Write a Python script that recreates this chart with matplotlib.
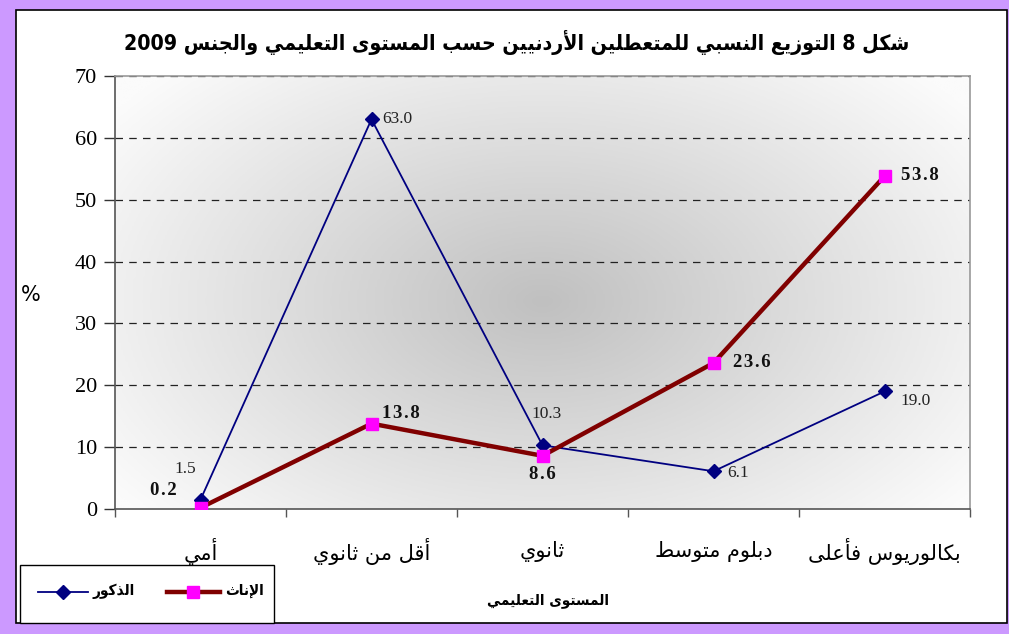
import re
import numpy as np
import matplotlib
matplotlib.use("Agg")
import matplotlib.pyplot as plt
from matplotlib.patches import Rectangle
from matplotlib.lines import Line2D
from matplotlib.colors import LinearSegmentedColormap

# ---------------- data ----------------
title = "شكل 8 التوزيع النسبي للمتعطلين الأردنيين حسب المستوى التعليمي والجنس 2009"
categories = ["أمي", "أقل من ثانوي", "ثانوي", "دبلوم متوسط", "بكالوريوس فأعلى"]
males = [1.5, 63.0, 10.3, 6.1, 19.0]
females = [0.2, 13.8, 8.6, 23.6, 53.8]
male_name = "الذكور"
female_name = "الإناث"
xlabel = "المستوى التعليمي"
ylabel = "%"
yticks = [0, 10, 20, 30, 40, 50, 60, 70]

# ---------------- Arabic shaping (presentation forms + visual order) ----------------
LETTERS = {
    0x0621: (0xFE80, 1), 0x0622: (0xFE81, 2), 0x0623: (0xFE83, 2), 0x0624: (0xFE85, 2),
    0x0625: (0xFE87, 2), 0x0626: (0xFE89, 4), 0x0627: (0xFE8D, 2), 0x0628: (0xFE8F, 4),
    0x0629: (0xFE93, 2), 0x062A: (0xFE95, 4), 0x062B: (0xFE99, 4), 0x062C: (0xFE9D, 4),
    0x062D: (0xFEA1, 4), 0x062E: (0xFEA5, 4), 0x062F: (0xFEA9, 2), 0x0630: (0xFEAB, 2),
    0x0631: (0xFEAD, 2), 0x0632: (0xFEAF, 2), 0x0633: (0xFEB1, 4), 0x0634: (0xFEB5, 4),
    0x0635: (0xFEB9, 4), 0x0636: (0xFEBD, 4), 0x0637: (0xFEC1, 4), 0x0638: (0xFEC5, 4),
    0x0639: (0xFEC9, 4), 0x063A: (0xFECD, 4), 0x0641: (0xFED1, 4), 0x0642: (0xFED5, 4),
    0x0643: (0xFED9, 4), 0x0644: (0xFEDD, 4), 0x0645: (0xFEE1, 4), 0x0646: (0xFEE5, 4),
    0x0647: (0xFEE9, 4), 0x0648: (0xFEED, 2), 0x0649: (0xFEEF, 2), 0x064A: (0xFEF1, 4),
}
LAMALEF = {0x0622: 0xFEF5, 0x0623: 0xFEF7, 0x0625: 0xFEF9, 0x0627: 0xFEFB}


def _jt(item):
    if item[0] == 'LA':
        return 'R'
    cp = ord(item[1])
    if cp in LETTERS:
        n = LETTERS[cp][1]
        return 'D' if n == 4 else ('R' if n == 2 else 'U')
    return 'U'


def ar(text):
    items = []
    i = 0
    while i < len(text):
        c = text[i]
        if ord(c) == 0x0644 and i + 1 < len(text) and ord(text[i + 1]) in LAMALEF:
            items.append(('LA', LAMALEF[ord(text[i + 1])]))
            i += 2
        else:
            items.append(('C', c))
            i += 1
    out = []
    for k, item in enumerate(items):
        t = _jt(item)
        pj = k > 0 and _jt(items[k - 1]) == 'D' and t in 'DR'
        nj = k + 1 < len(items) and t == 'D' and _jt(items[k + 1]) in 'DR'
        if item[0] == 'LA':
            out.append(chr(item[1] + (1 if pj else 0)))
            continue
        cp = ord(item[1])
        if cp not in LETTERS:
            out.append(item[1])
            continue
        base, n = LETTERS[cp]
        if n == 1:
            out.append(chr(base))
        elif n == 2:
            out.append(chr(base + (1 if pj else 0)))
        else:
            off = 3 if (pj and nj) else (1 if pj else (2 if nj else 0))
            out.append(chr(base + off))
    s = ''.join(out)
    s = re.sub(r'[0-9.]+', lambda m: m.group(0)[::-1], s)
    return s[::-1]


# ---------------- figure ----------------
W, H = 1009, 634
fig = plt.figure(figsize=(W / 100, H / 100), dpi=100)
fig.patch.set_facecolor('#CC99FF')


def fx(px):
    return px / W


def fy(py):
    return 1 - py / H


# white panel with black frame
fig.add_artist(Rectangle((fx(16), fy(623)), fx(1007) - fx(16), fy(10) - fy(623),
                         transform=fig.transFigure, facecolor='white',
                         edgecolor='black', linewidth=1.2, zorder=0))

ax = fig.add_axes([fx(115), fy(509), fx(970) - fx(115), fy(76) - fy(509)])
ax.set_zorder(2)

x = np.arange(len(categories))
ax.set_xlim(-0.5, len(categories) - 0.5)
ax.set_ylim(0, 70)

# radial gradient background
gx = np.linspace(0, 1, 400)
gy = np.linspace(0, 1, 300)
GX, GY = np.meshgrid(gx, gy)
R = np.sqrt(((GX - 0.50) / 0.62) ** 2 + ((GY - 0.48) / 0.75) ** 2)
R = np.clip(R, 0, 1)
cmap = LinearSegmentedColormap.from_list('g', ['#c0c0c0', '#dedede', '#fbfbfb'])
ax.imshow(R, cmap=cmap, extent=(-0.5, len(categories) - 0.5, 0, 70), origin='lower',
          aspect='auto', zorder=0, vmin=0, vmax=1, interpolation='bilinear')

for yv in yticks[1:]:
    ax.axhline(yv, color='#222222', linestyle=(0, (6, 5)), linewidth=0.9, zorder=1)

ax.plot(x, males, color='#000080', linewidth=1.3, marker='D', markersize=7,
        markerfacecolor='#000080', markeredgecolor='#000080', zorder=3)
ax.plot(x, females, color='#800000', linewidth=3.2, marker='s', markersize=9,
        markerfacecolor='#FF00FF', markeredgecolor='#FF00FF', zorder=4)

# spines
for s in ['top', 'right']:
    ax.spines[s].set_color('#999999')
    ax.spines[s].set_linewidth(1.2)
for s in ['left', 'bottom']:
    ax.spines[s].set_color('#555555')
    ax.spines[s].set_linewidth(1.2)

ax.set_yticks(yticks)
ax.set_yticklabels([str(v) for v in yticks], fontfamily='Liberation Serif', fontsize=16)
ax.tick_params(axis='y', direction='out', length=8, width=1, color='#333333', pad=5)

ax.set_xticks(np.arange(len(categories) + 1) - 0.5, minor=False)
ax.set_xticklabels([])
ax.tick_params(axis='x', direction='out', length=6, width=1, color='#555555')
for xi, c in zip(x, categories):
    ax.text(xi, -6.9, ar(c), ha='center', va='center', fontsize=15,
            fontfamily='DejaVu Sans', color='black', clip_on=False, zorder=10)

# data labels (offsets in pixels)
mfont = dict(fontfamily='Liberation Serif', fontsize=12.5, color='#222222')
ffont = dict(fontfamily='Liberation Serif', fontsize=13.5, fontweight='bold', color='#111111')
male_off = [(-15, 31), (26, 0), (4, 31), (25, -2), (31, -10)]
female_off = [(-37, 17), (29, 10), (0, -19), (38, 1), (35, 1)]
for xi, v, (dx, dy) in zip(x, males, male_off):
    ax.annotate(f"{v:.1f}", (xi, v), xytext=(dx, dy), textcoords='offset pixels',
                ha='center', va='center', zorder=5, **mfont)
for xi, v, (dx, dy) in zip(x, females, female_off):
    ax.annotate("\u200a".join(f"{v:.1f}"), (xi, v), xytext=(dx, dy), textcoords='offset pixels',
                ha='center', va='center', zorder=5, **ffont)

# title and axis titles
fig.text(fx(517), fy(42), ar(title), ha='center', va='center', fontsize=15.3,
         fontweight='bold', fontfamily='DejaVu Sans', fontstretch='condensed')
fig.text(fx(548), fy(600), ar(xlabel), ha='center', va='center', fontsize=11,
         fontweight='bold', fontfamily='DejaVu Sans', fontstretch='condensed')
fig.text(fx(31), fy(295), ylabel, ha='center', va='center', fontsize=15,
         fontfamily='DejaVu Sans')

# legend box
fig.add_artist(Rectangle((fx(20), fy(623)), fx(274) - fx(20), fy(565) - fy(623),
                         transform=fig.transFigure, facecolor='white',
                         edgecolor='black', linewidth=1.0, zorder=1))
fig.add_artist(Line2D([fx(38), fx(88)], [fy(592), fy(592)], transform=fig.transFigure,
                      color='#000080', linewidth=1.3, marker=None, zorder=4))
fig.add_artist(Line2D([fx(63)], [fy(592)], transform=fig.transFigure, marker='D',
                      markersize=7, color='#000080', zorder=5))
fig.text(fx(114), fy(591), ar(male_name), ha='center', va='center', fontsize=11,
         fontweight='bold', fontfamily='DejaVu Sans', fontstretch='condensed', zorder=6)
fig.add_artist(Line2D([fx(167), fx(220)], [fy(592), fy(592)], transform=fig.transFigure,
                      color='#800000', linewidth=3.2, zorder=4))
fig.add_artist(Line2D([fx(193)], [fy(592)], transform=fig.transFigure, marker='s',
                      markersize=9, color='#FF00FF', zorder=5))
fig.text(fx(244), fy(591), ar(female_name), ha='center', va='center', fontsize=11,
         fontweight='bold', fontfamily='DejaVu Sans', fontstretch='condensed', zorder=6)

fig.savefig('out.png', dpi=100, facecolor=fig.get_facecolor())
